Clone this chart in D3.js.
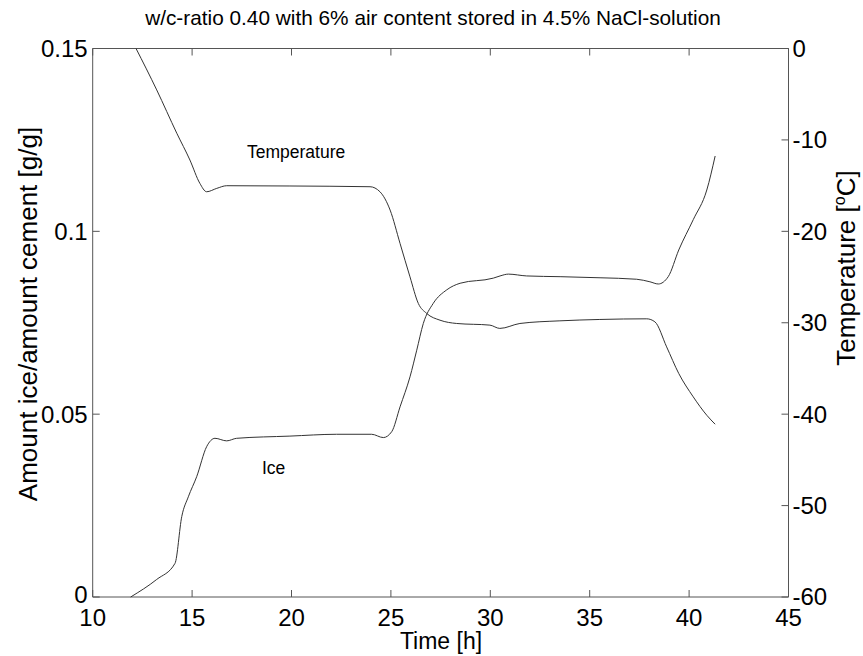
<!DOCTYPE html>
<html><head><meta charset="utf-8">
<script src="https://cdn.jsdelivr.net/npm/d3@7"></script>
<style>body{margin:0;background:#fff}svg{display:block;font-family:"Liberation Sans",Arial,sans-serif}</style>
</head><body><svg id="c" width="863" height="656"></svg>
<script>
const titleText = "w/c-ratio 0.40 with 6% air content stored in 4.5% NaCl-solution";
const xTicks = [10, 15, 20, 25, 30, 35, 40, 45];
const yLeftTicks = [0, 0.05, 0.1, 0.15];
const yLeftLabels = ["0", "0.05", "0.1", "0.15"];
const yRightTicks = [0, -10, -20, -30, -40, -50, -60];

const tempTime = [12.18,13.22,14.23,14.89,15.39,15.73,16.24,16.74,19.92,23.95,24.45,24.96,25.46,25.96,26.38,26.80,27.47,28.31,29.98,30.48,31.49,33.50,35.51,37.87,38.28,38.87,39.48,40.21,40.89,41.31];
const tempValue = [0,-4.53,-9.27,-12.20,-14.75,-15.67,-15.30,-15.01,-15.04,-15.12,-15.67,-17.67,-21.32,-24.98,-27.89,-28.98,-29.72,-30.08,-30.26,-30.62,-30.08,-29.79,-29.64,-29.57,-29.90,-32.64,-35.55,-38.11,-40.12,-41.10];

const iceTime = [11.91,13.22,14.14,14.48,14.81,15.23,15.73,16.15,16.74,17.24,19.92,22.27,24.03,24.62,25.04,25.46,25.96,26.30,26.63,27.13,27.81,28.48,30.15,30.49,30.91,31.83,33.51,35.52,37.36,38.03,38.45,38.95,39.48,40.21,40.89,41.31];
const iceValue = [0,0.0048,0.0092,0.0220,0.0274,0.0329,0.0411,0.0434,0.0427,0.0434,0.0440,0.0445,0.0445,0.0436,0.0452,0.0520,0.0602,0.0675,0.0748,0.0803,0.0840,0.0858,0.0872,0.0878,0.0883,0.0878,0.0876,0.0873,0.0869,0.0862,0.0856,0.0876,0.0949,0.1032,0.1113,0.1206];

const L = 92.7, R = 788.5, T = 48.5, B = 597;
const svg = d3.select("#c");
const x = d3.scaleLinear().domain([10, 45]).range([L, R]);
const yL = d3.scaleLinear().domain([0, 0.15]).range([B, T]);
const yR = d3.scaleLinear().domain([-60, 0]).range([B, T]);
const axisColor = "#555", lineColor = "#333";
const tick = 7, fs = 24;

const g = svg.append("g");
g.append("line").attr("x1", L).attr("x2", R).attr("y1", B).attr("y2", B).attr("stroke", axisColor);
g.append("line").attr("x1", L).attr("x2", R).attr("y1", T).attr("y2", T).attr("stroke", axisColor);
g.append("line").attr("x1", L).attr("x2", L).attr("y1", T).attr("y2", B).attr("stroke", axisColor);
g.append("line").attr("x1", R).attr("x2", R).attr("y1", T).attr("y2", B).attr("stroke", axisColor);

xTicks.forEach(v => {
  g.append("line").attr("x1", x(v)).attr("x2", x(v)).attr("y1", B).attr("y2", B - tick).attr("stroke", axisColor);
  g.append("line").attr("x1", x(v)).attr("x2", x(v)).attr("y1", T).attr("y2", T + tick).attr("stroke", axisColor);
  g.append("text").attr("x", x(v)).attr("y", B + 29).attr("text-anchor", "middle").attr("font-size", fs).text(v);
});
yLeftTicks.forEach((v, i) => {
  g.append("line").attr("x1", L).attr("x2", L + tick).attr("y1", yL(v)).attr("y2", yL(v)).attr("stroke", axisColor);
  g.append("text").attr("x", L - 5).attr("y", yL(v) - (v === 0 ? 2 : 0)).attr("dy", "0.35em").attr("text-anchor", "end").attr("font-size", fs).text(yLeftLabels[i]);
});
yRightTicks.forEach(v => {
  g.append("line").attr("x1", R).attr("x2", R - tick).attr("y1", yR(v)).attr("y2", yR(v)).attr("stroke", axisColor);
  g.append("text").attr("x", R + 4).attr("y", yR(v)).attr("dy", "0.35em").attr("text-anchor", "start").attr("font-size", fs).text(v);
});

const tempLine = d3.line().x((d, i) => x(tempTime[i])).y(d => yR(d)).curve(d3.curveMonotoneX);
const iceLine = d3.line().x((d, i) => x(iceTime[i])).y(d => yL(d)).curve(d3.curveMonotoneX);
svg.append("path").attr("d", tempLine(tempValue)).attr("fill", "none").attr("stroke", lineColor).attr("stroke-width", 1);
svg.append("path").attr("d", iceLine(iceValue)).attr("fill", "none").attr("stroke", lineColor).attr("stroke-width", 1);

svg.append("text").attr("x", 433).attr("y", 25).attr("text-anchor", "middle").attr("font-size", 20.8).text(titleText);
svg.append("text").attr("x", 441).attr("y", 649).attr("text-anchor", "middle").attr("font-size", 23).text("Time [h]");
svg.append("text").attr("transform", "translate(37,314) rotate(-90)").attr("text-anchor", "middle").attr("font-size", 26).text("Amount ice/amount cement [g/g]");
const rl = svg.append("text").attr("transform", "translate(855,268) rotate(-90)").attr("text-anchor", "middle").attr("font-size", 26);
rl.append("tspan").text("Temperature [");
rl.append("tspan").attr("dy", -10).attr("font-size", 16).text("o");
rl.append("tspan").attr("dy", 10).text("C]");
svg.append("text").attr("x", 247).attr("y", 158).attr("font-size", 17.5).text("Temperature");
svg.append("text").attr("x", 262).attr("y", 474).attr("font-size", 17.5).text("Ice");
</script></body></html>
